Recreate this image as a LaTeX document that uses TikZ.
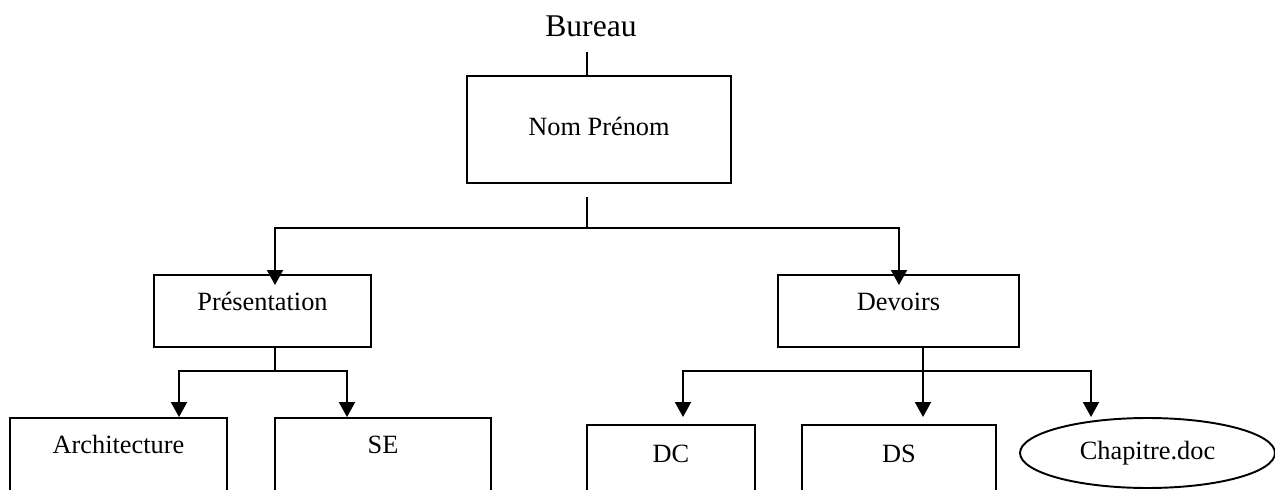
\documentclass[tikz,border=0pt]{standalone}
\usepackage{fontspec}
\setmainfont{Liberation Serif}
\usetikzlibrary{arrows.meta,shapes.geometric}

\begin{document}
\begin{tikzpicture}[x=0.02cm, y=-0.02cm, line width=1.1pt,
    dirbox/.style={draw, anchor=base, inner xsep=0, inner ysep=0, font=\fontsize{15}{18}\selectfont},
    filenode/.style={draw, ellipse, inner sep=0, font=\fontsize{15}{18}\selectfont},
    arr/.style={-{Triangle[width=0.32cm, length=0.3cm]}}]
      \useasboundingbox (0,0) rectangle (1275,490);

      \node[anchor=base, inner sep=0, font=\fontsize{18}{22}\selectfont] (bureau) at (591,36) {Bureau};
      \node[dirbox, minimum width=5.28cm, text height=1.18cm, text depth=0.96cm] (nom) at (599,135) {Nom Prénom};
      \node[dirbox, minimum width=4.34cm, text height=0.7cm, text depth=0.74cm] (pres) at (262.5,310) {Présentation};
      \node[dirbox, minimum width=4.82cm, text height=0.7cm, text depth=0.74cm] (dev) at (898.5,310) {Devoirs};
      \node[dirbox, minimum width=4.34cm, text height=0.7cm, text depth=1.2cm] (arch) at (118.5,453) {Architecture};
      \node[dirbox, minimum width=4.32cm, text height=0.7cm, text depth=1.2cm] (se) at (383,453) {SE};
      \node[dirbox, minimum width=3.36cm, text height=0.74cm, text depth=1.2cm] (dc) at (671,462) {DC};
      \node[dirbox, minimum width=3.88cm, text height=0.74cm, text depth=1.2cm] (ds) at (899,462) {DS};
      \node[filenode, minimum width=5.1cm, minimum height=1.4cm] (chap) at (1147.5,453) {Chapitre.doc};

      \coordinate (b1) at (587,52);
      \coordinate (n1) at (587,197);
      \coordinate (n2) at (587,228);
      \coordinate (pa) at (275,285);
      \coordinate (da) at (899,285);
      \coordinate (p1) at (275,371);
      \coordinate (ta) at (179,0);
      \coordinate (ts) at (347,0);
      \coordinate (d1) at (923,371);
      \coordinate (tc) at (683,417);
      \coordinate (tds) at (923,417);
      \coordinate (tch) at (1091,417);

      \draw (b1) -- (b1 |- nom.north);
      \draw (n1) -- (n2);
      \draw[arr] (n2) -| (pa);
      \draw[arr] (n2) -| (da);
      \draw (p1 |- pres.south) -- (p1);
      \draw[arr] (p1) -| (ta |- arch.north);
      \draw[arr] (p1) -| (ts |- se.north);
      \draw (d1 |- dev.south) -- (d1);
      \draw[arr] (d1) -| (tc);
      \draw[arr] (d1) -- (tds);
      \draw[arr] (d1) -| (tch);
    \end{tikzpicture}
\end{document}
